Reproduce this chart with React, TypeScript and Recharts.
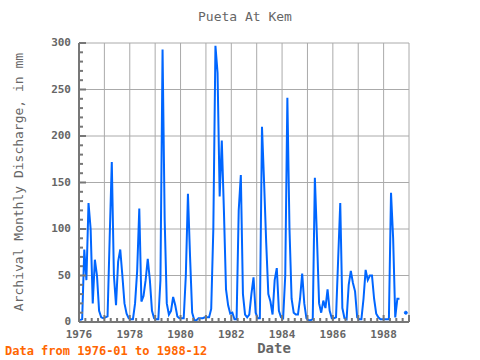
import { LineChart, Line, XAxis, YAxis, CartesianGrid } from "recharts"

const years = [1976, 1977, 1978, 1979, 1980, 1981, 1982, 1983, 1984, 1985, 1986, 1987, 1988]

// monthly discharge in mm, Jan..Dec
const q1976 = [2, 3, 78, 45, 128, 100, 20, 67, 50, 12, 5, 4]
const q1977 = [5, 6, 90, 172, 50, 18, 65, 78, 50, 20, 9, 4]
const q1978 = [3, 3, 20, 55, 122, 22, 28, 45, 68, 45, 12, 4]
const q1979 = [3, 3, 45, 293, 110, 20, 8, 12, 27, 18, 6, 4]
const q1980 = [4, 4, 50, 138, 70, 10, 2, 2, 4, 4, 4, 5]
const q1981 = [5, 5, 14, 100, 297, 268, 135, 195, 120, 35, 18, 9]
const q1982 = [10, 3, 3, 120, 158, 30, 8, 5, 8, 30, 48, 10]
const q1983 = [4, 4, 210, 150, 85, 30, 22, 8, 45, 58, 12, 5]
const q1984 = [4, 50, 241, 100, 25, 10, 8, 8, 25, 52, 20, 4]
const q1985 = [2, 2, 3, 155, 90, 20, 10, 23, 15, 35, 12, 4]
const q1986 = [4, 5, 67, 128, 15, 4, 3, 40, 55, 42, 33, 5]
const q1987 = [3, 3, 25, 56, 45, 50, 50, 25, 9, 5, 3, 3]
const q1988 = [3, 3, 3, 139, 90, 5, 25, 25, null, null, 10, null]

const flows = [q1976, q1977, q1978, q1979, q1980, q1981, q1982, q1983, q1984, q1985, q1986, q1987, q1988]

const yMajor = [0, 50, 100, 150, 200, 250, 300]
const xMajor = [1976, 1977, 1978, 1979, 1980, 1981, 1982, 1983, 1984, 1985, 1986, 1987, 1988, 1989]
const xLabels = [1976, 1978, 1980, 1982, 1984, 1986, 1988]

const yMinor: number[] = []
for (let v = 0; v <= 300; v += 10) yMinor.push(v)
const xMinor: number[] = []
for (let k = 0; k <= 52; k++) xMinor.push(1976 + k / 4)

const rows: { t: number; q: number | null }[] = []
years.forEach((yr, i) => {
  flows[i].forEach((q, m) => rows.push({ t: yr + (m + 0.5) / 12, q }))
})

const AXIS = "#777777"
const TEXT = "#666666"
const LINE = "#0066ff"
const FONT = "'DejaVu Sans Mono', monospace"

const isMajorX = (v: number) => Math.abs(v - Math.round(v)) < 1e-6

const BottomTick = ({ x, y, payload }: any) => {
  const v = payload.value
  const major = isMajorX(v)
  const label = major && xLabels.includes(Math.round(v))
  return (
    <g>
      <line x1={x} x2={x} y1={y} y2={y - (major ? 7 : 4)} stroke={AXIS} strokeWidth={2} />
      {label && (
        <text x={x} y={y + 16} textAnchor="middle" fill={TEXT} fontSize={11} fontFamily={FONT} fontWeight="bold">
          {Math.round(v)}
        </text>
      )}
    </g>
  )
}

const TopTick = ({ x, y, payload }: any) => {
  const major = isMajorX(payload.value)
  return <line x1={x} x2={x} y1={y} y2={y + (major ? 7 : 4)} stroke={AXIS} strokeWidth={2} />
}

const LeftTick = ({ x, y, payload }: any) => {
  const v = payload.value
  const major = v % 50 === 0
  return (
    <g>
      <line x1={x} x2={x + (major ? 7 : 4)} y1={y} y2={y} stroke={AXIS} strokeWidth={2} />
      {major && (
        <text x={x - 8} y={y + 3} textAnchor="end" fill={TEXT} fontSize={11} fontFamily={FONT} fontWeight="bold">
          {v}
        </text>
      )}
    </g>
  )
}

const RightTick = ({ x, y, payload }: any) => {
  const major = payload.value % 50 === 0
  return <line x1={x} x2={x - (major ? 7 : 4)} y1={y} y2={y} stroke={AXIS} strokeWidth={2} />
}

const isolatedDot = (props: any) => {
  const { cx, cy, index } = props
  const cur = rows[index]?.q
  const prev = rows[index - 1]?.q
  const next = rows[index + 1]?.q
  if (cur != null && prev == null && next == null) {
    return <circle key={`d${index}`} cx={cx} cy={cy} r={1.5} fill={LINE} stroke={LINE} />
  }
  return <g key={`d${index}`} />
}

export default function App() {
  return (
    <div style={{ position: "absolute", left: 0, top: 0, width: 480, height: 360, background: "#fff" }}>
      <div
        style={{
          position: "absolute", top: 9, left: 0, width: 490, textAlign: "center",
          fontFamily: FONT, fontSize: 13, color: TEXT,
        }}
      >
        Pueta At Kem
      </div>
      <div
        style={{
          position: "absolute", left: 18, top: 182, transform: "translate(-50%, -50%) rotate(-90deg)",
          whiteSpace: "nowrap", fontFamily: FONT, fontSize: 13, color: TEXT,
        }}
      >
        Archival Monthly Discharge, in mm
      </div>
      <div
        style={{
          position: "absolute", left: 244, top: 341, width: 60, height: 14, lineHeight: "14px",
          textAlign: "center", fontFamily: FONT, fontSize: 14, fontWeight: "bold", color: TEXT,
        }}
      >
        Date
      </div>
      <div
        style={{
          position: "absolute", left: 5, top: 345, height: 13, lineHeight: "13px", whiteSpace: "nowrap",
          fontFamily: FONT, fontSize: 12, fontWeight: "bold", color: "#ff6600",
        }}
      >
        Data from 1976-01 to 1988-12
      </div>
      <LineChart width={480} height={360} data={rows} margin={{ top: 43, right: 71, bottom: 8, left: 39 }}>
        <CartesianGrid
          xAxisId="x" yAxisId="y" stroke="#aaaaaa" strokeWidth={1}
          horizontalValues={yMajor} verticalValues={xMajor}
        />
        <XAxis
          xAxisId="x" dataKey="t" type="number" domain={[1976, 1989]} ticks={xMinor} interval={0}
          tickSize={0} tickMargin={0} height={30} tick={<BottomTick />}
          axisLine={{ stroke: AXIS, strokeWidth: 2 }} tickLine={false}
        />
        <XAxis
          xAxisId="top" orientation="top" dataKey="t" type="number" domain={[1976, 1989]} ticks={xMinor}
          interval={0} tickSize={0} tickMargin={0} height={0} tick={<TopTick />}
          axisLine={{ stroke: AXIS, strokeWidth: 2 }} tickLine={false}
        />
        <YAxis
          yAxisId="y" type="number" domain={[0, 300]} ticks={yMinor} interval={0} width={40}
          tickSize={0} tickMargin={0} tick={<LeftTick />}
          axisLine={{ stroke: AXIS, strokeWidth: 2 }} tickLine={false}
        />
        <YAxis
          yAxisId="right" orientation="right" type="number" domain={[0, 300]} ticks={yMinor} interval={0}
          width={0} tickSize={0} tickMargin={0} tick={<RightTick />}
          axisLine={{ stroke: AXIS, strokeWidth: 2 }} tickLine={false}
        />
        <Line
          xAxisId="x" yAxisId="y" type="linear" dataKey="q" stroke={LINE} strokeWidth={2}
          dot={isolatedDot} activeDot={false} isAnimationActive={false}
        />
      </LineChart>
    </div>
  )
}
